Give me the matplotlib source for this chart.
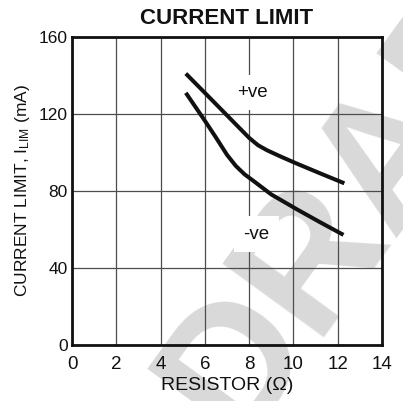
import matplotlib
matplotlib.use("Agg")
import matplotlib.pyplot as plt

# ---- data ----
pos_x = [5.14, 6.0, 7.0, 8.0, 8.4, 8.8, 9.5, 10.2, 11.2, 12.3]
pos_y = [141.0, 131.0, 119.3, 107.6, 103.8, 101.2, 97.5, 94.0, 89.2, 84.0]
neg_x = [5.14, 6.0, 6.5, 7.0, 7.4, 7.8, 8.2, 9.0, 10.2, 11.2, 12.26]
neg_y = [131.0, 116.5, 107.8, 98.8, 93.0, 88.6, 85.2, 78.2, 70.2, 63.8, 57.2]
x_ticks = [0, 2, 4, 6, 8, 10, 12, 14]
y_ticks = [0, 40, 80, 120, 160]
labels = ["+ve", "-ve"]
label_pos = [(8.17, 131.2), (8.34, 57.5)]

plt.rcParams['font.family'] = ['Liberation Sans', 'DejaVu Sans']
plt.rcParams['mathtext.fontset'] = 'custom'
plt.rcParams['mathtext.rm'] = 'Liberation Sans'
plt.rcParams['mathtext.it'] = 'Liberation Sans'

INK = '#111111'
W, H = 403, 401
fig = plt.figure(figsize=(W / 100, H / 100), dpi=100)
fig.patch.set_facecolor('white')
ax = fig.add_axes([72 / W, 1 - 345 / H, 310 / W, 308 / H])
ax.set_facecolor('none')

# watermark
fig.text(237 / W, 1 - 442 / H, "DRAFT", rotation=54, rotation_mode='anchor',
         ha='left', va='baseline', fontsize=130, fontweight='bold',
         color='#d9d9d9', zorder=-1)

ax.plot(pos_x, pos_y, color=INK, lw=2.9, solid_capstyle='butt', zorder=3)
ax.plot(neg_x, neg_y, color=INK, lw=2.9, solid_capstyle='butt', zorder=3)

for t, (lx, ly) in zip(labels, label_pos):
    ax.text(lx, ly, t, ha='center', va='center', fontsize=13.5, color=INK,
            bbox=dict(facecolor='white', edgecolor='none', boxstyle='square,pad=0.5'),
            zorder=2.5)

ax.set_xlim(0, 14)
ax.set_ylim(0, 160)
ax.set_xticks(x_ticks)
ax.set_yticks(y_ticks)
ax.set_xticklabels([str(v) for v in x_ticks])
ax.set_yticklabels([str(v) for v in y_ticks])
ax.tick_params(axis='both', length=0, colors=INK)
ax.tick_params(axis='x', pad=8, labelsize=13.5)
ax.tick_params(axis='y', pad=3, labelsize=12.5)
ax.grid(True, color='#4d4d4d', lw=0.9, zorder=1)
ax.set_axisbelow(True)
for s in ax.spines.values():
    s.set_linewidth(2.0)
    s.set_color(INK)
    s.set_zorder(5)

ax.set_title("CURRENT LIMIT", fontsize=16, fontweight='bold', color=INK, pad=9)
ax.set_xlabel("RESISTOR (\u03a9)", fontsize=14, color=INK, labelpad=3)
ax.set_ylabel(r"CURRENT LIMIT, I$_{\mathrm{LIM}}$ (mA)", fontsize=12.5, color=INK, labelpad=5)

fig.savefig("out.png", dpi=100, facecolor='white')
